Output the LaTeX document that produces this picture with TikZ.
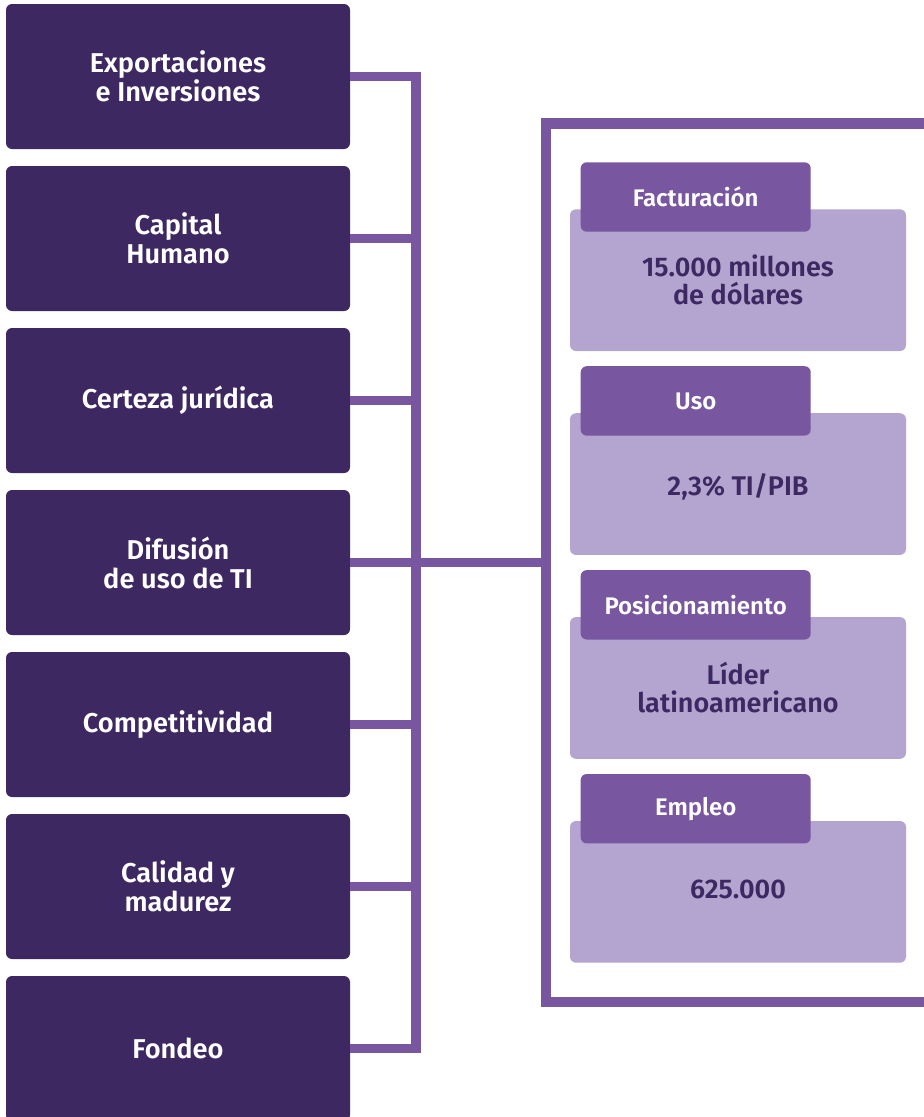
\documentclass[tikz,border=0pt]{standalone}
\usepackage{fontspec}
\setmainfont{Fira Sans}[BoldFont={Fira Sans SemiBold}]
\definecolor{dark}{HTML}{3D2862}
\definecolor{mid}{HTML}{7857A0}
\definecolor{light}{HTML}{B4A4D0}
\tikzset{
 leftbox/.style={rectangle, rounded corners=6pt, fill=dark, text=white, minimum width=344pt, minimum height=145pt, inner sep=0pt, align=center, font=\bfseries\fontsize{27.2}{29}\selectfont},
 tabbox/.style={rectangle, rounded corners=6pt, fill=mid, text=white, minimum width=230pt, minimum height=69.4pt, inner sep=0pt, font=\bfseries\fontsize{24}{26}\selectfont},
 valbox/.style={rectangle, rounded corners=6pt, fill=light, text=dark, minimum width=336pt, minimum height=141.7pt, inner sep=0pt, align=center, font=\bfseries\fontsize{27}{28}\selectfont},
 conn/.style={draw=mid, line width=9.5pt, line join=miter},
}
\begin{document}
\begin{tikzpicture}[x=1pt,y=-1pt]
\useasboundingbox (0,0) rectangle (924,1117);
% left boxes
\node[leftbox] (b1) at (178,76.5) {Exportaciones\\e Inversiones};
\node[leftbox] (b2) at (178,238.5) {Capital\\Humano};
\node[leftbox] (b3) at (178,400.5) {Certeza jurídica};
\node[leftbox] (b4) at (178,562.5) {Difusión\\de uso de TI};
\node[leftbox] (b5) at (178,724.5) {Competitividad};
\node[leftbox] (b6) at (178,886.5) {Calidad y\\madurez};
\node[leftbox] (b7) at (178,1048.5) {Fondeo};
% connectors
\coordinate (vt) at (416,76.5);
\coordinate (vb) at (416,1048.5);
\draw[conn] (b1.east) -- (vt) -- (vb) -- (b7.east);
\draw[conn] (b2.east) -- (b2.east -| vt);
\draw[conn] (b3.east) -- (b3.east -| vt);
\draw[conn] (b4.east) -- (b4.east -| vt);
\draw[conn] (b5.east) -- (b5.east -| vt);
\draw[conn] (b6.east) -- (b6.east -| vt);
% frame
\coordinate (ftr) at (924,123.5);
\coordinate (ftl) at (546,123.5);
\coordinate (fbl) at (546,1002);
\coordinate (fbr) at (924,1002);
\draw[conn] (b4.east -| vt) -- (b4.east -| ftl);
\draw[conn, line width=10.5pt] (ftr) -- (ftl) -- (fbl) -- (fbr);
% cards
\node[valbox] (v1) at (738,280.15) {15.000 millones\\de dólares};
\node[tabbox] (t1) at (695.7,197) {Facturación};
\node[valbox] (v2) at (738,484.05) {\raisebox{-2.5pt}[\height][\depth]{2,3\% TI/PIB}};
\node[tabbox] (t2) at (695.7,400.9) {Uso};
\node[valbox] (v3) at (738,687.95) {Líder\\latinoamericano};
\node[tabbox] (t3) at (695.7,604.8) {Posicionamiento};
\node[valbox] (v4) at (738,891.85) {\raisebox{2pt}[\height][\depth]{625.000}};
\node[tabbox] (t4) at (695.7,808.7) {Empleo};
\end{tikzpicture}
\end{document}
